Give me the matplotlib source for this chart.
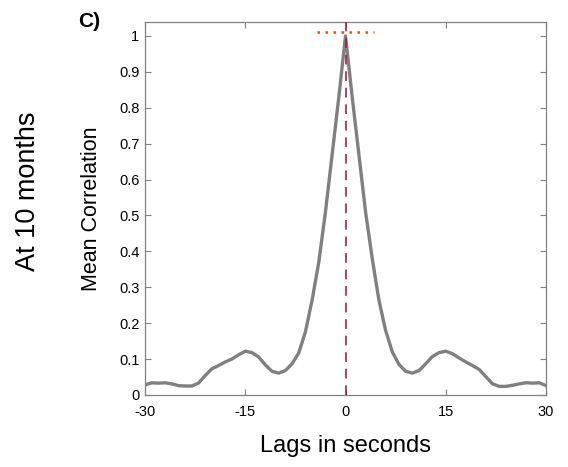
import numpy as np
import matplotlib.pyplot as plt

plt.rcParams['font.family'] = ['Liberation Sans', 'DejaVu Sans']
plt.rcParams['axes.unicode_minus'] = False

lags = np.arange(-30, 31)
corr = [0.028, 0.034, 0.033, 0.034, 0.031, 0.026, 0.025, 0.025, 0.033, 0.054,
        0.073, 0.082, 0.092, 0.100, 0.112, 0.122, 0.118, 0.106, 0.084, 0.066,
        0.061, 0.068, 0.087, 0.117, 0.176, 0.264, 0.37, 0.51, 0.67, 0.83,
        1.0,
        0.83, 0.67, 0.51, 0.38, 0.264, 0.18, 0.12, 0.085, 0.066, 0.061,
        0.068, 0.087, 0.107, 0.118, 0.122, 0.115, 0.103, 0.092, 0.082, 0.071,
        0.051, 0.031, 0.024, 0.024, 0.027, 0.031, 0.034, 0.033, 0.034, 0.026]

yticks = np.round(np.arange(0, 1.01, 0.1), 1)
ytick_labels = ['0', '0.1', '0.2', '0.3', '0.4', '0.5', '0.6', '0.7', '0.8', '0.9', '1']
xticks = [-30, -15, 0, 15, 30]

fig = plt.figure(figsize=(5.68, 4.67), dpi=100)
ax = fig.add_axes([0.2553, 0.1542, 0.706, 0.7987])

ax.plot(lags, corr, color='#808080', lw=2.4, zorder=2)
ax.axvline(0, color='#A2142F', ls=(0, (5, 3.5)), lw=1.4, alpha=0.8, zorder=3)
ax.plot([-4.2, 4.2], [1.01, 1.01], color='#D95319', ls=(0, (1, 2.2)), lw=1.8, zorder=4)

ax.set_xlim(-30, 30)
ax.set_ylim(0, 1.039)
ax.set_xticks(xticks)
ax.set_yticks(yticks)
ax.set_yticklabels(ytick_labels)
ax.tick_params(direction='in', top=True, right=True, length=4, width=0.8,
               color='#808080', labelsize=10.5)
ax.tick_params(axis='x', pad=7)
ax.tick_params(axis='y', pad=4)
for s in ax.spines.values():
    s.set_color('#808080')
    s.set_linewidth(0.9)

ax.set_xlabel('Lags in seconds', fontsize=17, labelpad=12)
ax.set_ylabel('Mean Correlation', fontsize=15.5, labelpad=12)
fig.text(0.05, 0.59, 'At 10 months', rotation=90, fontsize=19.5, ha='center', va='center')
fig.text(0.137, 0.953, 'C)', fontsize=15, fontweight='bold', ha='left', va='center')

fig.savefig('out.png', dpi=100)
